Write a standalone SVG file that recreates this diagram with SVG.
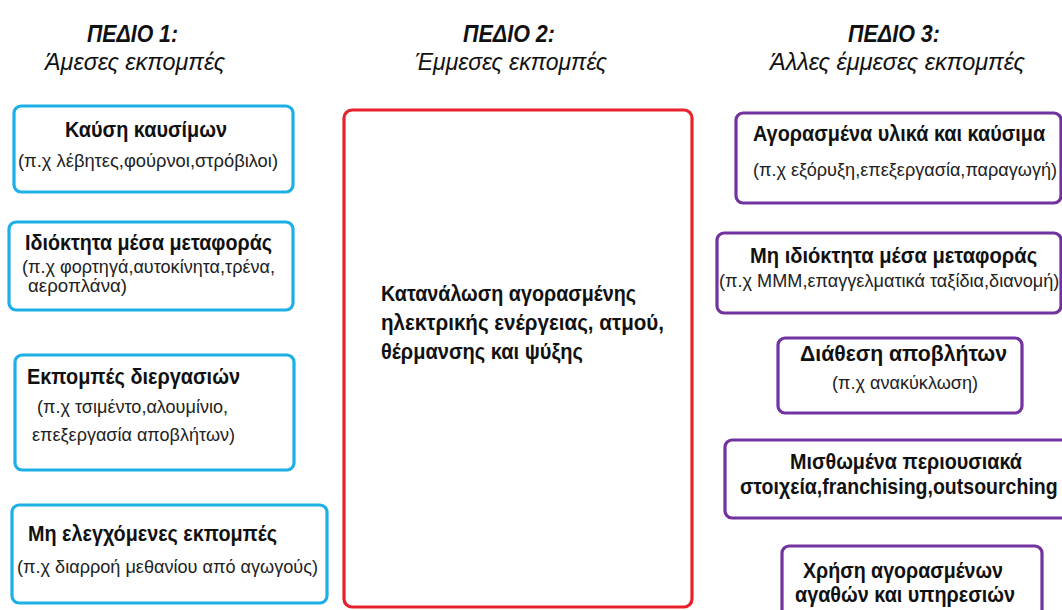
<svg xmlns="http://www.w3.org/2000/svg" width="1062" height="610" viewBox="0 0 1062 610">
<style>
text{font-family:"Liberation Sans",Arial,sans-serif;fill:#111}
.h{font-size:24px;font-style:italic}
.hb{font-weight:bold}
.t{font-size:22px;font-weight:bold}
.s{font-size:19px;fill:#222}
.cy{fill:#fff;stroke:#1cb0e6;stroke-width:3.2}
.rd{fill:#fff;stroke:#e8222c;stroke-width:3.2}
.pu{fill:#fff;stroke:#7232a0;stroke-width:3.2}
</style>
<rect width="1062" height="610" fill="#fff"/>
<g id="headers">
<text class="h hb" x="87" y="42" textLength="91" lengthAdjust="spacingAndGlyphs">ΠΕΔΙΟ 1:</text>
<text class="h" x="45" y="70" textLength="180" lengthAdjust="spacingAndGlyphs">Άμεσες εκπομπές</text>
<text class="h hb" x="463" y="42" textLength="92" lengthAdjust="spacingAndGlyphs">ΠΕΔΙΟ 2:</text>
<text class="h" x="415" y="70" textLength="192" lengthAdjust="spacingAndGlyphs">Έμμεσες εκπομπές</text>
<text class="h hb" x="848" y="42" textLength="92" lengthAdjust="spacingAndGlyphs">ΠΕΔΙΟ 3:</text>
<text class="h" x="770" y="70" textLength="255" lengthAdjust="spacingAndGlyphs">Άλλες έμμεσες εκπομπές</text>
</g>
<g id="connectors"></g>
<g id="L1">
<rect class="cy" x="14" y="106" width="279" height="86" rx="7"/>
<text class="t" x="65" y="137" textLength="162" lengthAdjust="spacingAndGlyphs">Καύση καυσίμων</text>
<text class="s" x="18" y="167" textLength="260" lengthAdjust="spacingAndGlyphs">(π.χ λέβητες,φούρνοι,στρόβιλοι)</text>
</g>
<g id="L2">
<rect class="cy" x="9" y="222" width="284" height="88" rx="7"/>
<text class="t" x="25" y="250" textLength="247" lengthAdjust="spacingAndGlyphs">Ιδιόκτητα μέσα μεταφοράς</text>
<text class="s" x="22" y="273" textLength="253" lengthAdjust="spacingAndGlyphs">(π.χ φορτηγά,αυτοκίνητα,τρένα,</text>
<text class="s" x="28" y="292" textLength="99" lengthAdjust="spacingAndGlyphs">αεροπλάνα)</text>
</g>
<g id="L3">
<rect class="cy" x="15" y="355" width="279" height="115" rx="7"/>
<text class="t" x="27" y="384" textLength="213" lengthAdjust="spacingAndGlyphs">Εκπομπές διεργασιών</text>
<text class="s" x="37" y="413" textLength="191" lengthAdjust="spacingAndGlyphs">(π.χ τσιμέντο,αλουμίνιο,</text>
<text class="s" x="32" y="441" textLength="203" lengthAdjust="spacingAndGlyphs">επεξεργασία αποβλήτων)</text>
</g>
<g id="L4">
<rect class="cy" x="12" y="505" width="315" height="98" rx="7"/>
<text class="t" x="28" y="541" textLength="249" lengthAdjust="spacingAndGlyphs">Μη ελεγχόμενες εκπομπές</text>
<text class="s" x="17" y="573" textLength="301" lengthAdjust="spacingAndGlyphs">(π.χ διαρροή μεθανίου από αγωγούς)</text>
</g>
<g id="M">
<rect class="rd" x="344" y="110" width="348" height="497" rx="8"/>
<text class="t" x="381" y="301" textLength="255" lengthAdjust="spacingAndGlyphs">Κατανάλωση αγορασμένης</text>
<text class="t" x="381" y="330" textLength="283" lengthAdjust="spacingAndGlyphs">ηλεκτρικής ενέργειας, ατμού,</text>
<text class="t" x="381" y="359" textLength="202" lengthAdjust="spacingAndGlyphs">θέρμανσης και ψύξης</text>
</g>
<g id="R1">
<rect class="pu" x="736" y="113" width="325" height="90" rx="7"/>
<text class="t" transform="translate(753 141) scale(0.88 1)" x="0" y="0" textLength="332" lengthAdjust="spacingAndGlyphs">Αγορασμένα υλικά και καύσιμα</text>
<text class="s" transform="translate(753 176) scale(0.93 1)" x="0" y="0" textLength="327" lengthAdjust="spacingAndGlyphs">(π.χ εξόρυξη,επεξεργασία,παραγωγή)</text>
</g>
<g id="R2">
<rect class="pu" x="717" y="233" width="344" height="80" rx="7"/>
<text class="t" transform="translate(750 263) scale(0.9 1)" x="0" y="0" textLength="319" lengthAdjust="spacingAndGlyphs">Μη ιδιόκτητα μέσα μεταφοράς</text>
<text class="s" transform="translate(719 287) scale(0.92 1)" x="0" y="0" textLength="370" lengthAdjust="spacingAndGlyphs">(π.χ ΜΜΜ,επαγγελματικά ταξίδια,διανομή)</text>
</g>
<g id="R3">
<rect class="pu" x="778" y="338" width="244" height="75" rx="7"/>
<text class="t" x="800" y="361" textLength="207" lengthAdjust="spacingAndGlyphs">Διάθεση αποβλήτων</text>
<text class="s" x="832" y="389" textLength="146" lengthAdjust="spacingAndGlyphs">(π.χ ανακύκλωση)</text>
</g>
<g id="R4">
<rect class="pu" x="725" y="440" width="352" height="78" rx="7"/>
<text class="t" x="790" y="469" textLength="232" lengthAdjust="spacingAndGlyphs">Μισθωμένα περιουσιακά</text>
<text class="t" transform="translate(740 494) scale(0.88 1)" x="0" y="0" textLength="361" lengthAdjust="spacingAndGlyphs">στοιχεία,franchising,outsourching</text>
</g>
<g id="R5">
<rect class="pu" x="782" y="546" width="260" height="80" rx="7"/>
<text class="t" x="803" y="578" textLength="200" lengthAdjust="spacingAndGlyphs">Χρήση αγορασμένων</text>
<text class="t" x="795" y="602" textLength="220" lengthAdjust="spacingAndGlyphs">αγαθών και υπηρεσιών</text>
</g>
</svg>
